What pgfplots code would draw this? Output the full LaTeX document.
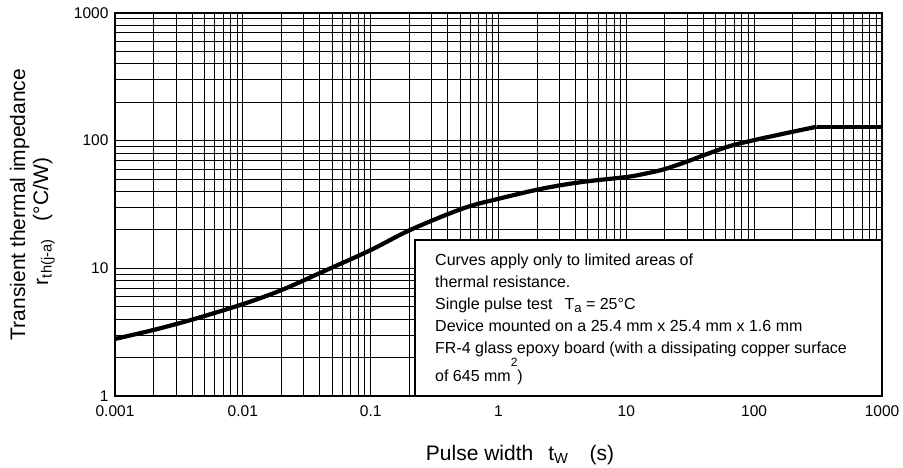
\documentclass[border=0pt]{standalone}
\usepackage{fontspec}
\setmainfont{Liberation Sans}
\usepackage{pgfplots}
\pgfplotsset{compat=1.18}
\begin{document}
\begin{tikzpicture}
\begin{axis}[
  name=ax,
  xmode=log, ymode=log,
  scale only axis, width=767bp, height=383bp,
  xmin=0.001, xmax=1000, ymin=1, ymax=1000,
  xtick={0.001,0.01,0.1,1,10,100,1000},
  xticklabels={0.001,0.01,0.1,1,10,100,1000},
  ytick={1,10,100,1000},
  yticklabels={1,10,100,1000},
  minor xtick={0.002,0.003,0.004,0.005,0.006,0.007,0.008,0.009,
               0.02,0.03,0.04,0.05,0.06,0.07,0.08,0.09,
               0.2,0.3,0.4,0.5,0.6,0.7,0.8,0.9,
               2,3,4,5,6,7,8,9,20,30,40,50,60,70,80,90,
               200,300,400,500,600,700,800,900},
  minor ytick={2,3,4,5,6,7,8,9,20,30,40,50,60,70,80,90,
               200,300,400,500,600,700,800,900},
  grid=both,
  major grid style={black, line width=1.3bp},
  minor grid style={black, line width=0.85bp},
  major tick length=0pt, minor tick length=0pt,
  axis line style={line width=2.3bp},
  ticklabel style={font=\fontsize{15.5bp}{18bp}\selectfont},
  xticklabel style={yshift=-6bp},
  yticklabel style={xshift=-3bp},
  clip=false,
]
% note box
\fill[white] (axis cs:0.2223,1) rectangle (axis cs:1000,16.67);
\draw[line width=1.5bp] (axis cs:0.2223,1) -- (axis cs:0.2223,16.67) -- (axis cs:1000,16.67);
\node[anchor=north west, inner sep=0pt, align=left,
      font=\fontsize{16bp}{22bp}\selectfont] at (axis cs:0.3187,12.95)
  {Curves apply only to limited areas of\\
   thermal resistance.\\
   Single pulse test\hspace{12bp}T{\fontsize{13bp}{13bp}\selectfont\raisebox{-3bp}{a}} = 25°C\\
   Device mounted on a 25.4 mm x 25.4 mm x 1.6 mm\\
   FR-4 glass epoxy board (with a dissipating copper surface\\
   of 645 mm\raisebox{15bp}{\fontsize{12bp}{12bp}\selectfont 2})};
% curve
\addplot[black, line width=4.2bp, smooth, tension=0.55] coordinates {
 (0.001,2.80) (0.002,3.29) (0.0041,3.99) (0.0101,5.26) (0.0201,6.76)
 (0.0426,9.44) (0.1,13.9) (0.203,19.95) (0.53,29.5) (1.03,35.3)
 (2.25,42.3) (4.6,47.6) (10,51.9) (14.1,55.2) (19.5,59.5) (29.6,68.4)
 (42.6,78.5) (64.7,90.8) (98.6,100.7) (180,114.8) (308,128.5)};
\addplot[black, line width=4.2bp] coordinates {(308,128.5) (1000,128.5)};
\draw[line width=2.3bp] (rel axis cs:0,0) rectangle (rel axis cs:1,1);
\end{axis}
\node[rotate=90, anchor=south, align=center, inner sep=0pt,
      font=\fontsize{21bp}{23bp}\selectfont] at ([xshift=-60bp]ax.west)
  {Transient thermal impedance\\ r\textsubscript{th(j-a)}\hspace{18bp}(°C/W)\hspace*{34bp}};
\node[anchor=base, inner sep=0pt, font=\fontsize{21bp}{23bp}\selectfont]
  at ([xshift=21.5bp, yshift=-64bp]ax.south)
  {Pulse width\hspace{15bp}t\textsubscript{W}\hspace{21bp}(s)};
\pgfresetboundingbox
\path ([shift={(-115bp,-72bp)}]ax.south west) rectangle ([shift={(21bp,13bp)}]ax.north east);
\end{tikzpicture}
\end{document}
